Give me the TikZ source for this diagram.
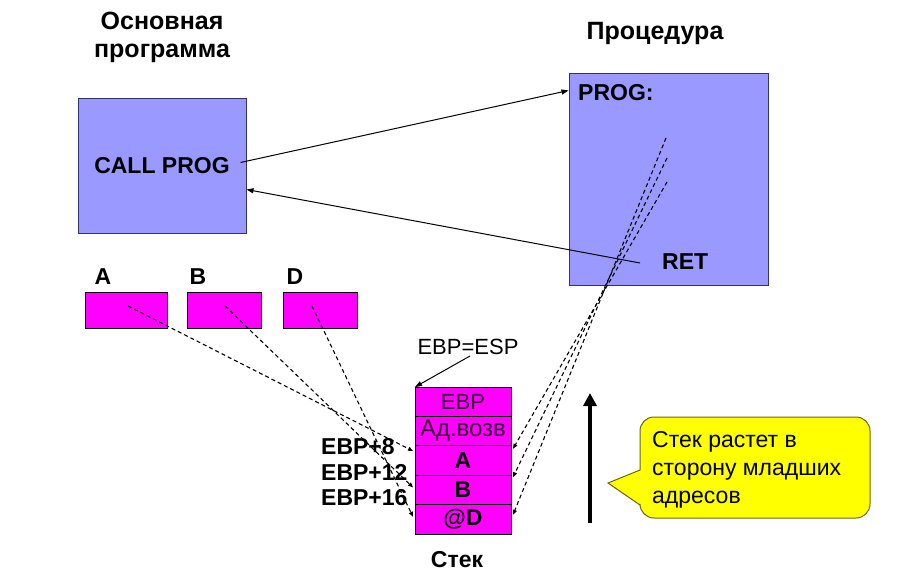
\documentclass[tikz,border=0pt]{standalone}
\usepackage{fontspec}
\setmainfont{Liberation Sans}
\usetikzlibrary{positioning,arrows.meta}

\definecolor{progblue}{RGB}{153,153,255}
\definecolor{progedge}{RGB}{51,51,102}
\definecolor{cellpink}{RGB}{255,0,255}
\definecolor{cellink}{RGB}{50,0,50}
\definecolor{notefill}{RGB}{255,255,0}
\definecolor{noteedge}{RGB}{110,100,20}

\begin{document}
\begin{tikzpicture}[
    x=1pt, y=-1pt,
    txt/.style={
        font=\fontsize{22}{28}\selectfont,
        inner sep=1pt
    },
    boldtxt/.style={
        font=\fontsize{23}{28}\selectfont\bfseries,
        inner sep=1pt
    },
    titletxt/.style={
        font=\fontsize{25}{28}\selectfont\bfseries,
        inner sep=1pt
    },
    prog/.style={
        draw=progedge,
        fill=progblue,
        line width=1pt
    },
    var/.style={
        draw=black,
        fill=cellpink,
        line width=1pt,
        minimum height=36pt
    },
    cell/.style={
        draw=black,
        fill=cellpink,
        line width=1pt,
        minimum width=96pt,
        minimum height=29.4pt,
        inner sep=0pt,
        outer sep=0pt
    },
    ptr/.style={line width=1pt, -{Triangle[length=7pt,width=5pt]}},
    link/.style={line width=1.1pt, dash pattern=on 4pt off 3pt, -{Triangle[length=5pt,width=4pt]}}
]

\useasboundingbox (0,0) rectangle (908,584);

\node[titletxt, align=center] (maintitle) at (162,37) {Основная\\программа};
\node[titletxt] (proctitle) at (655,33) {Процедура};

\node[prog, boldtxt, minimum width=168pt, minimum height=135pt] (main) at (162,165.5) {CALL PROG};
\node[prog, minimum width=199pt, minimum height=212pt] (proc) at (668.5,179) {};
\node[boldtxt, anchor=west] (entry) at (577,93) {PROG:};
\node[boldtxt, anchor=west] (ret) at (661,262) {RET};

% variables
\node[var, minimum width=82pt] (varA) at (126,310.5) {};
\node[var, minimum width=74pt] (varB) at (224,310.5) {};
\node[var, minimum width=74pt] (varD) at (320,310.5) {};
\node[boldtxt] (labA) at (103,277) {A};
\node[boldtxt] (labB) at (198,277) {B};
\node[boldtxt] (labD) at (295,277) {D};

% stack
\node[cell, txt, text=cellink] (c1) at (463,401.7) {EBP};
\node[cell, txt, font=\fontsize{24}{28}\selectfont, text=cellink, below=0pt of c1] (c2) {Ад.возв};
\node[cell, boldtxt, below=0pt of c2] (c3) {A};
\node[cell, boldtxt, below=0pt of c3] (c4) {B};
\node[cell, boldtxt, below=0pt of c4] (c5) {@D};
\node[boldtxt] (stackname) at (457,560) {Стек};

\node[txt] (esp) at (468,347) {EBP=ESP};
\draw[ptr] ([xshift=2pt]esp.south) -- (c1.north west);

\node[boldtxt, anchor=west] (off8) at (320,447) {EBP+8};
\node[boldtxt, anchor=west] (off12) at (320,472) {EBP+12};
\node[boldtxt, anchor=west] (off16) at (320,498) {EBP+16};

% call and return
\coordinate (back) at (640,263);
\draw[ptr] ([xshift=-6pt,yshift=3pt]main.east) -- ([yshift=-18pt]proc.north west);
\draw[ptr] (back) -- ([yshift=-24pt]main.east);

% parameters
\coordinate (srcA) at (128,306);
\coordinate (srcB) at (225,306);
\coordinate (srcD) at (312,306);
\draw[link] (srcA) -- ([xshift=-2pt,yshift=9.5pt]c3.west);
\draw[link] (srcB) -- ([xshift=-2pt,yshift=2.5pt]c4.west);
\draw[link] (srcD) -- ([xshift=-2pt,yshift=2.5pt]c5.west);

\coordinate (use1) at (666,138);
\coordinate (use2) at (667,158);
\coordinate (use3) at (667,182);
\draw[link] (use1) -- ([xshift=2pt,yshift=4.5pt]c5.east);
\draw[link] (use2) -- ([xshift=2pt,yshift=-2pt]c4.north east);
\draw[link] (use3) -- ([xshift=2pt,yshift=-3pt]c3.north east);

% growth direction
\coordinate (grow0) at (590,523);
\coordinate (grow1) at (590,393);
\draw[line width=4pt, -{Triangle[length=13pt,width=13pt]}] (grow0) -- (grow1);

\draw[draw=noteedge, fill=notefill, line width=1pt, rounded corners=14pt]
    (750,417) -- (870,417) -- (870,518) -- (640,518) [sharp corners] -- (640,505)
    -- (608,483) -- (640,470) [rounded corners=14pt] -- (640,417) -- cycle;
\node[txt, font=\fontsize{23}{28}\selectfont, align=left, anchor=west] (note) at (651,470) {Стек растет в\\сторону младших\\адресов};

\end{tikzpicture}
\end{document}
